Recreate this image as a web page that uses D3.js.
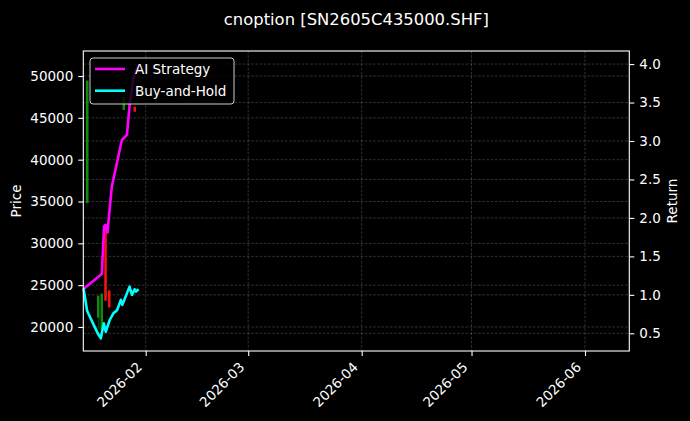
<!DOCTYPE html>
<html><head><meta charset="utf-8">
<script src="https://cdn.jsdelivr.net/npm/d3@7"></script>
<style>
body{margin:0;background:#000;}
svg{display:block;background:#000;}
text{font-family:"DejaVu Sans",sans-serif;fill:#fff;}
</style>
</head><body>
<svg id="chart" width="690" height="421"></svg>
<script>
// ---------- data ----------
const chartTitle = "cnoption [SN2605C435000.SHF]";
const leftLabel = "Price";
const rightLabel = "Return";
const seriesNames = ["AI Strategy", "Buy-and-Hold"];

const candleDates = ["2026-01-16 00:00","2026-01-19 00:00","2026-01-20 00:00","2026-01-21 00:00","2026-01-22 00:00","2026-01-26 00:00","2026-01-29 00:00"];
const candleOpen  = [34800, 21110, 19560, 31970, 24370, 45940, 46330];
const candleClose = [49450, 23740, 23970, 23140, 22340, 47490, 45730];
const candleHigh  = [49450, 23740, 24030, 31970, 24370, 47490, 46330];
const candleLow   = [34800, 19680, 19300, 23140, 22340, 45940, 45730];

const strategyTimes = ["2026-01-15 00:00","2026-01-20 00:00","2026-01-20 15:20","2026-01-21 00:00","2026-01-21 13:00","2026-01-22 18:00","2026-01-24 03:00","2026-01-25 12:00","2026-01-26 21:00","2026-01-27 14:30","2026-01-28 17:00","2026-01-30 00:00"];
const strategyReturns = [1.077, 1.272, 1.89, 1.91, 1.81, 2.41, 2.71, 3.015, 3.08, 3.47, 3.835, 3.99];

const holdTimes = ["2026-01-15 00:00","2026-01-16 00:00","2026-01-19 00:00","2026-01-19 18:00","2026-01-20 13:00","2026-01-21 02:00","2026-01-22 04:00","2026-01-23 04:00","2026-01-24 04:00","2026-01-25 05:00","2026-01-25 15:00","2026-01-27 14:00","2026-01-28 06:00","2026-01-28 23:00","2026-01-29 08:00","2026-01-30 01:00"];
const holdReturns = [1.085, 0.79, 0.49, 0.435, 0.63, 0.52, 0.673, 0.76, 0.80, 0.934, 0.87, 1.107, 1.0, 1.073, 1.042, 1.073];

const priceTicks = [20000, 25000, 30000, 35000, 40000, 45000, 50000];
const returnTicks = [0.5, 1.0, 1.5, 2.0, 2.5, 3.0, 3.5, 4.0];
const monthTicks = ["2026-02-01 00:00","2026-03-01 00:00","2026-04-01 00:00","2026-05-01 00:00","2026-06-01 00:00"];

// ---------- layout ----------
const parse = d3.timeParse("%Y-%m-%d %H:%M");
const P = {left: 83.3, right: 629.3, top: 51, bottom: 351};
const svg = d3.select("#chart");

const x = d3.scaleTime()
  .domain([parse("2026-01-14 22:48"), parse("2026-06-13 02:24")])
  .range([P.left, P.right]);
const yL = d3.scaleLinear().domain([17130, 52990]).range([P.bottom, P.top]);
const yR = d3.scaleLinear().domain([0.27, 4.17]).range([P.bottom, P.top]);

const FS = 13.5;

// grid
const grid = svg.append("g").attr("stroke", "#ffffff").attr("stroke-opacity", 0.28)
  .attr("stroke-width", 0.7).attr("stroke-dasharray", "2.6,1.6").attr("fill", "none");
monthTicks.map(parse).forEach(t => {
  grid.append("line").attr("x1", x(t)).attr("x2", x(t)).attr("y1", P.top).attr("y2", P.bottom);
});
priceTicks.forEach(v => {
  grid.append("line").attr("x1", P.left).attr("x2", P.right).attr("y1", yL(v)).attr("y2", yL(v));
});
returnTicks.forEach(v => {
  grid.append("line").attr("x1", P.left).attr("x2", P.right).attr("y1", yR(v)).attr("y2", yR(v));
});

// candles
const candles = candleDates.map((d, i) => ({t: parse(d), o: candleOpen[i], c: candleClose[i], h: candleHigh[i], l: candleLow[i]}));
const cg = svg.append("g");
const bw = 2.4;
candles.forEach(d => {
  const col = d.c >= d.o ? "#118a11" : "#ff1010";
  const wick = d.c >= d.o ? "#0a5f0a" : "#b00000";
  cg.append("line").attr("x1", x(d.t) + 0.8).attr("x2", x(d.t) + 0.8)
    .attr("y1", yL(d.h)).attr("y2", yL(d.l)).attr("stroke", wick).attr("stroke-width", 1);
  const top = yL(Math.max(d.o, d.c)), bot = yL(Math.min(d.o, d.c));
  cg.append("rect").attr("x", x(d.t) - bw / 2).attr("width", bw)
    .attr("y", top).attr("height", Math.max(1, bot - top)).attr("fill", col);
});

// lines
const line = d3.line().x(d => x(d.t)).y(d => yR(d.v));
const strat = strategyTimes.map((t, i) => ({t: parse(t), v: strategyReturns[i]}));
const hold = holdTimes.map((t, i) => ({t: parse(t), v: holdReturns[i]}));
svg.append("path").datum(strat).attr("d", line).attr("fill", "none")
  .attr("stroke", "#ff00ff").attr("stroke-width", 2.6).attr("stroke-linejoin", "round");
svg.append("path").datum(hold).attr("d", line).attr("fill", "none")
  .attr("stroke", "#00ffff").attr("stroke-width", 2.6).attr("stroke-linejoin", "round");

// spines
svg.append("rect").attr("x", P.left).attr("y", P.top).attr("width", P.right - P.left)
  .attr("height", P.bottom - P.top).attr("fill", "none").attr("stroke", "#fff").attr("stroke-width", 1.1);

// axes
const axL = svg.append("g").attr("transform", `translate(${P.left},0)`)
  .call(d3.axisLeft(yL).tickValues(priceTicks).tickFormat(d3.format("d")).tickSize(5).tickPadding(5).tickSizeOuter(0));
const axR = svg.append("g").attr("transform", `translate(${P.right},0)`)
  .call(d3.axisRight(yR).tickValues(returnTicks).tickFormat(d3.format(".1f")).tickSize(5).tickPadding(5).tickSizeOuter(0));
const axB = svg.append("g").attr("transform", `translate(0,${P.bottom})`)
  .call(d3.axisBottom(x).tickValues(monthTicks.map(parse)).tickFormat(d3.timeFormat("%Y-%m")).tickSize(5).tickSizeOuter(0));
[axL, axR, axB].forEach(a => {
  a.select(".domain").remove();
  a.selectAll(".tick line").attr("stroke", "#fff").attr("stroke-width", 1.1);
  a.selectAll(".tick text").attr("fill", "#fff").style("font-size", FS + "px").style("font-family", "DejaVu Sans");
});
axB.selectAll(".tick text")
  .attr("text-anchor", "end")
  .attr("y", null).attr("dy", null)
  .attr("transform", "translate(-3.5,17) rotate(-45)");

// axis labels
svg.append("text").attr("transform", `translate(21,${(P.top + P.bottom) / 2}) rotate(-90)`)
  .attr("text-anchor", "middle").style("font-size", FS + "px").text(leftLabel);
svg.append("text").attr("transform", `translate(677,${(P.top + P.bottom) / 2}) rotate(-90)`)
  .attr("text-anchor", "middle").style("font-size", FS + "px").text(rightLabel);

// title
svg.append("text").attr("x", (P.left + P.right) / 2).attr("y", 24.5)
  .attr("text-anchor", "middle").style("font-size", "16.4px").text(chartTitle);

// legend
const lg = svg.append("g");
lg.append("rect").attr("x", 90).attr("y", 58).attr("width", 144).attr("height", 46).attr("rx", 3)
  .attr("fill", "#000").attr("fill-opacity", 0.8).attr("stroke", "#cccccc").attr("stroke-width", 1);
const legendColors = ["#ff00ff", "#00ffff"];
seriesNames.forEach((n, i) => {
  const yy = 69 + i * 21.7;
  lg.append("line").attr("x1", 95).attr("x2", 125).attr("y1", yy).attr("y2", yy)
    .attr("stroke", legendColors[i]).attr("stroke-width", 2.6);
  lg.append("text").attr("x", 135).attr("y", yy).attr("dy", "0.36em").style("font-size", FS + "px").text(n);
});
</script>
</body></html>
